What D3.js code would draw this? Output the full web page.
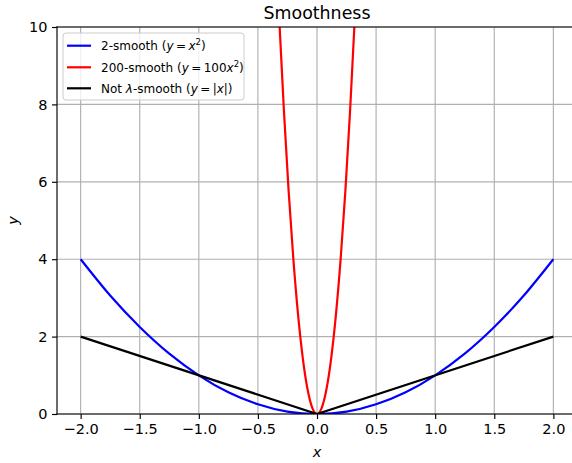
<!DOCTYPE html>
<html lang="en">
  <head>
    <meta charset="utf-8">
    <title>Smoothness</title>
    <script src="https://cdn.jsdelivr.net/npm/d3@7"></script>
    <style type="text/css">
      body { margin: 0; background: #fff; }
      svg { font-family: "DejaVu Sans", sans-serif; }
      .grid line { stroke: #b0b0b0; stroke-width: 1.15px; }
      .axis text { font-size: 14.5px; fill: #000; }
      .axis path, .axis line { stroke: #000; stroke-width: 1.15px; }
    </style>
  </head>
  <body>
    <script type="text/javascript">

      // values
      const xTicks = [-2.0, -1.5, -1.0, -0.5, 0.0, 0.5, 1.0, 1.5, 2.0];
      const yTicks = [0, 2, 4, 6, 8, 10];

      // 2-smooth curve (blue)
      const blueX = [-2, -1.75, -1.5, -1.25, -1, -0.75, -0.5, -0.25, 0, 0.25, 0.5, 0.75, 1, 1.25, 1.5, 1.75, 2];
      const blueY = [4, 3.06, 2.25, 1.56, 1, 0.56, 0.25, 0.06, 0, 0.06, 0.25, 0.56, 1, 1.56, 2.25, 3.06, 4];

      // 200-smooth curve (red)
      const redX = [-0.32, -0.28, -0.24, -0.2, -0.16, -0.12, -0.08, -0.04, 0, 0.04, 0.08, 0.12, 0.16, 0.2, 0.24, 0.28, 0.32];
      const redY = [10.24, 7.84, 5.76, 4, 2.56, 1.44, 0.64, 0.16, 0, 0.16, 0.64, 1.44, 2.56, 4, 5.76, 7.84, 10.24];

      // not smooth (black)
      const blackX = [-2, 0, 2];
      const blackY = [2, 0, 2];

      const width = 572, height = 463;
      const padLeft = 57, padTop = 27, padRight = 577, padBottom = 414;

      const svg = d3.select("body").append("svg")
                    .attr("width", width)
                    .attr("height", height);

      const xScale = d3.scaleLinear().domain([-2.2, 2.2]).range([padLeft, padRight]);
      const yScale = d3.scaleLinear().domain([0, 10]).range([padBottom, padTop]);

      // clip for the plot area
      svg.append("clipPath").attr("id", "plotclip")
         .append("rect")
         .attr("x", padLeft).attr("y", padTop)
         .attr("width", padRight - padLeft).attr("height", padBottom - padTop);

      // grid
      const grid = svg.append("g").attr("class", "grid");
      grid.selectAll("line.gx").data(xTicks).enter().append("line")
          .attr("x1", d => xScale(d)).attr("x2", d => xScale(d))
          .attr("y1", padTop).attr("y2", padBottom);
      grid.selectAll("line.gy").data(yTicks).enter().append("line")
          .attr("x1", padLeft).attr("x2", padRight)
          .attr("y1", d => yScale(d)).attr("y2", d => yScale(d));

      // lines
      const plot = svg.append("g").attr("clip-path", "url(#plotclip)");
      function drawLine(xs, ys, color, curve) {
        const line = d3.line()
                       .x(d => xScale(d[0]))
                       .y(d => yScale(d[1]))
                       .curve(curve);
        plot.append("path")
            .datum(xs.map((x, i) => [x, ys[i]]))
            .attr("fill", "none")
            .attr("stroke", color)
            .attr("stroke-width", 2.2)
            .attr("stroke-linejoin", "round")
            .attr("d", line);
      }
      drawLine(blueX, blueY, "#0000ff", d3.curveNatural);
      drawLine(redX, redY, "#ff0000", d3.curveNatural);
      drawLine(blackX, blackY, "#000000", d3.curveLinear);

      // axes
      const xAxis = d3.axisBottom(xScale).tickValues(xTicks)
                      .tickFormat(d3.format(".1f"))
                      .tickSizeOuter(0).tickSize(5).tickPadding(4.5);
      svg.append("g").attr("class", "axis")
         .attr("transform", "translate(0," + padBottom + ")")
         .call(xAxis);

      const yAxis = d3.axisLeft(yScale).tickValues(yTicks)
                      .tickSizeOuter(0).tickSize(5).tickPadding(4.5);
      svg.append("g").attr("class", "axis")
         .attr("transform", "translate(" + padLeft + ",0)")
         .call(yAxis);

      svg.selectAll(".axis .domain").remove();
      svg.selectAll(".axis text").attr("font-family", "DejaVu Sans").attr("font-size", 14.5);

      // spines
      const spines = [[padLeft, padTop, padLeft, padBottom], [padLeft, padBottom, padRight, padBottom],
                      [padLeft, padTop, padRight, padTop], [padRight, padTop, padRight, padBottom]];
      svg.selectAll("line.spine").data(spines).enter().append("line")
         .attr("x1", d => d[0]).attr("y1", d => d[1])
         .attr("x2", d => d[2]).attr("y2", d => d[3])
         .attr("stroke", "#000").attr("stroke-width", 1.15)
         .attr("stroke-linecap", "square");

      // title and axis labels
      svg.append("text")
         .attr("x", (padLeft + padRight) / 2).attr("y", 19)
         .attr("text-anchor", "middle")
         .attr("font-size", 17.4)
         .text("Smoothness");

      svg.append("text")
         .attr("x", (padLeft + padRight) / 2).attr("y", 457)
         .attr("text-anchor", "middle")
         .attr("font-size", 14.5).attr("font-style", "italic")
         .text("x");

      svg.append("text")
         .attr("transform", "translate(18," + ((padTop + padBottom) / 2) + ") rotate(-90)")
         .attr("text-anchor", "middle")
         .attr("font-size", 14.5).attr("font-style", "italic")
         .text("y");

      // legend
      const legend = svg.append("g");
      legend.append("rect")
            .attr("x", 63).attr("y", 33)
            .attr("width", 181).attr("height", 67)
            .attr("rx", 3)
            .attr("fill", "#fff").attr("fill-opacity", 0.8)
            .attr("stroke", "#cccccc").attr("stroke-width", 1);

      const legendItems = [
        { color: "#0000ff", parts: [["2-smooth (", ""], ["y", "i"], ["\u2009=\u2009", ""], ["x", "i"], ["2", "s"], [")", ""]] },
        { color: "#ff0000", parts: [["200-smooth (", ""], ["y", "i"], ["\u2009=\u2009100", ""], ["x", "i"], ["2", "s"], [")", ""]] },
        { color: "#000000", parts: [["Not ", ""], ["λ", "i"], ["-smooth (", ""], ["y", "i"], ["\u2009=\u2009|", ""], ["x", "i"], ["|)", ""]] }
      ];
      const rowY = [45.7, 67.3, 88.3];

      legendItems.forEach((item, i) => {
        legend.append("line")
              .attr("x1", 67).attr("x2", 91)
              .attr("y1", rowY[i]).attr("y2", rowY[i])
              .attr("stroke", item.color).attr("stroke-width", 2.2);
        const t = legend.append("text")
                        .attr("x", 101).attr("y", rowY[i] + 4.3)
                        .attr("font-size", 12);
        let raised = false;
        item.parts.forEach(p => {
          const span = t.append("tspan").text(p[0]);
          if (p[1] === "i") span.attr("font-style", "italic");
          if (p[1] === "s") { span.attr("font-size", 8.5).attr("dy", -4.8); raised = true; }
          else if (raised) { span.attr("dy", 4.8); raised = false; }
        });
      });
    </script>
  </body>
</html>
